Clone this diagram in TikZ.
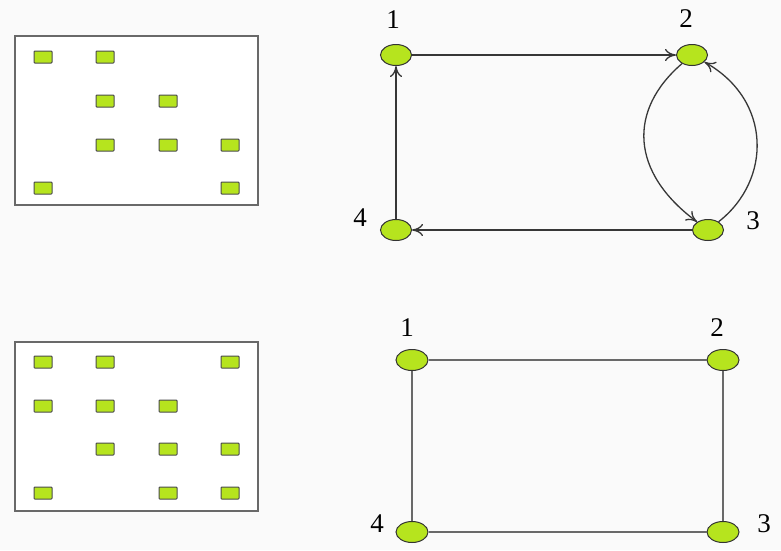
\documentclass[tikz,border=0pt]{standalone}
\usepackage{fontspec}
\setmainfont{Liberation Serif}
\usetikzlibrary{arrows.meta,shapes.geometric}
\definecolor{leaf}{RGB}{182,228,30}
\definecolor{edgegray}{RGB}{55,55,55}
\definecolor{softgray}{RGB}{105,105,105}
\definecolor{paper}{RGB}{250,250,250}
\tikzset{
  panel/.style={draw=softgray, line width=1.8pt, fill=white},
  cell/.style={draw=black!70, line width=1pt, fill=leaf, minimum width=18pt, minimum height=12pt, inner sep=0pt, rounded corners=0.8pt},
  vert/.style={ellipse, draw=black!80, line width=1pt, fill=leaf, minimum width=31pt, minimum height=21pt, inner sep=0pt},
  vlabel/.style={font=\fontsize{27}{27}\selectfont, inner sep=0pt},
  arc/.style={draw=edgegray, line width=1.3pt, -{To[length=11pt,width=12pt]}},
  plainedge/.style={draw=softgray, line width=1.6pt}
}
\begin{document}
\begin{tikzpicture}[x=1pt,y=-1pt]
\useasboundingbox[fill=paper] (0,0) rectangle (781,550);

% ---- upper matrix ----
\draw[panel] (15,36) rectangle (258,205);
\node[cell] (a11) at (43,57) {};
\node[cell] (a12) at (105,57) {};
\node[cell] (a22) at (105,101) {};
\node[cell] (a23) at (168,101) {};
\node[cell] (a32) at (105,145) {};
\node[cell] (a33) at (168,145) {};
\node[cell] (a34) at (230,145) {};
\node[cell] (a41) at (43,188) {};
\node[cell] (a44) at (230,188) {};

% ---- lower matrix ----
\draw[panel] (15,342) rectangle (258,511);
\node[cell] (b11) at (43,362) {};
\node[cell] (b12) at (105,362) {};
\node[cell] (b14) at (230,362) {};
\node[cell] (b21) at (43,406) {};
\node[cell] (b22) at (105,406) {};
\node[cell] (b23) at (168,406) {};
\node[cell] (b32) at (105,449) {};
\node[cell] (b33) at (168,449) {};
\node[cell] (b34) at (230,449) {};
\node[cell] (b41) at (43,493) {};
\node[cell] (b43) at (168,493) {};
\node[cell] (b44) at (230,493) {};

% ---- directed graph ----
\node[vert] (u1) at (396,55) {};
\node[vert] (u2) at (692,55) {};
\node[vert] (u3) at (708,230) {};
\node[vert] (u4) at (396,230) {};
\node[vlabel] (lu1) at (393,20) {1};
\node[vlabel] (lu2) at (686,19) {2};
\node[vlabel] (lu3) at (753,221) {3};
\node[vlabel] (lu4) at (360,218) {4};
\draw[arc] (u1) -- (u2);
\draw[arc] (u4) -- (u1);
\draw[arc] (u3) -- (u4);
\draw[arc] (u2) .. controls (628,110) and (630,172) .. (u3);
\draw[arc] (u3) .. controls (772,180) and (772,100) .. (u2);

% ---- undirected graph ----
\node[vert, minimum width=32pt] (w1) at (412,360) {};
\node[vert, minimum width=32pt] (w2) at (723,360) {};
\node[vert, minimum width=32pt] (w3) at (723,532) {};
\node[vert, minimum width=32pt] (w4) at (412,532) {};
\node[vlabel] (lw1) at (407,328) {1};
\node[vlabel] (lw2) at (717,328) {2};
\node[vlabel] (lw3) at (764,524) {3};
\node[vlabel] (lw4) at (377,524) {4};
\draw[plainedge] (w1) -- (w2);
\draw[plainedge] (w2) -- (w3);
\draw[plainedge] (w3) -- (w4);
\draw[plainedge] (w4) -- (w1);
\end{tikzpicture}
\end{document}
